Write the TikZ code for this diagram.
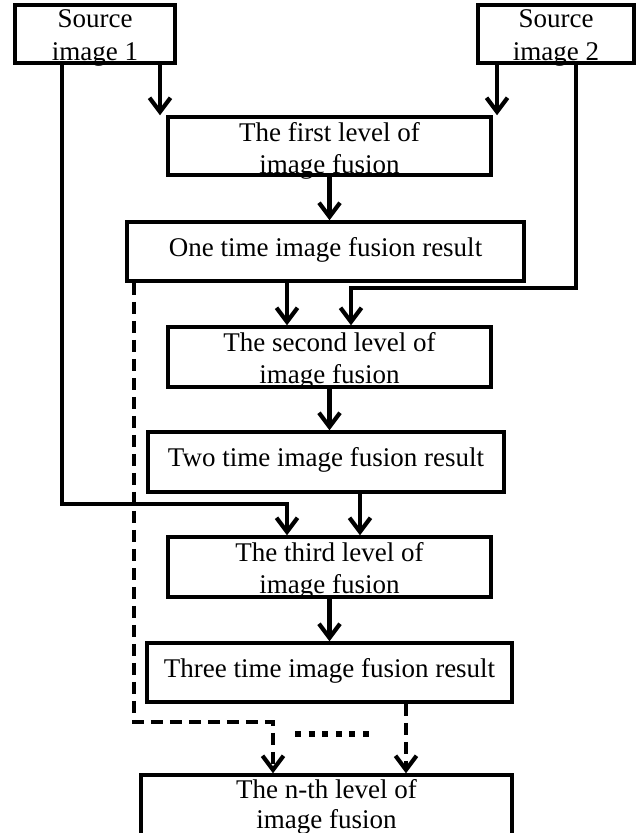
\documentclass[tikz,border=0pt]{standalone}
\usepackage{fontspec}
\setmainfont{Liberation Serif}
\usetikzlibrary{arrows.meta}
\begin{document}
\begin{tikzpicture}[x=1pt,y=-1pt,
  box/.style={draw=black, line width=3.5pt, rectangle, inner sep=0pt},
  txt/.style={font=\fontsize{27}{32}\selectfont, inner sep=0pt, anchor=base},
  arr/.style={line width=4.2pt, -{Straight Barb[length=14pt,width=21pt]}},
  dsh/.style={dash pattern=on 12pt off 7pt}]
\useasboundingbox (0,0) rectangle (640,833);
% boxes
\node[box, minimum width=160, minimum height=58] (s1) at (95,34) {};
\node[box, minimum width=156, minimum height=58] (s2) at (556,34) {};
\node[box, minimum width=323, minimum height=58] (l1) at (329.5,146) {};
\node[box, minimum width=397, minimum height=59] (r1) at (325.5,251.5) {};
\node[box, minimum width=323, minimum height=60] (l2) at (329.5,357) {};
\node[box, minimum width=356, minimum height=60] (r2) at (326,462) {};
\node[box, minimum width=323, minimum height=60] (l3) at (329.5,567) {};
\node[box, minimum width=365, minimum height=59] (r3) at (329.5,672.5) {};
\node[box, minimum width=371, minimum height=80] (ln) at (326.5,815) {};
% texts
\node[txt] (s1a) at (95,27) {Source};
\node[txt] (s1b) at (95,60) {image 1};
\node[txt] (s2a) at (556,27) {Source};
\node[txt] (s2b) at (556,60) {image 2};
\node[txt] (l1a) at (329.5,141) {The first level of};
\node[txt] (l1b) at (329.5,173) {image fusion};
\node[txt] (r1a) at (325.5,256) {One time image fusion result};
\node[txt] (l2a) at (329.5,351) {The second level of};
\node[txt] (l2b) at (329.5,383) {image fusion};
\node[txt] (r2a) at (326,466) {Two time image fusion result};
\node[txt] (l3a) at (329.5,561) {The third level of};
\node[txt] (l3b) at (329.5,593) {image fusion};
\node[txt] (r3a) at (329.5,677) {Three time image fusion result};
\node[txt] (lna) at (326.5,798) {The n-th level of};
\node[txt] (lnb) at (326.5,828) {image fusion};
% helper coordinates
\coordinate (xa) at (62,0);
\coordinate (ya) at (0,504);
\coordinate (xb) at (287,0);
\coordinate (xc) at (160,0);
\coordinate (xd) at (497,0);
\coordinate (xe) at (576,0);
\coordinate (yf) at (0,288);
\coordinate (xg) at (351,0);
\coordinate (xh) at (360,0);
\coordinate (xi) at (406,0);
\coordinate (xj) at (134,0);
\coordinate (yk) at (0,722);
\coordinate (xl) at (273,0);
\coordinate (d1) at (295,734);
\coordinate (d2) at (369,734);
% connectors
\draw[arr] (s1.south -| xa) |- (ya -| xb) -- (l3.north -| xb);
\draw[arr] (s1.south -| xc) -- (l1.north -| xc);
\draw[arr] (s2.south -| xd) -- (l1.north -| xd);
\draw[arr] (s2.south -| xe) |- (yf -| xg) -- (l2.north -| xg);
\draw[arr] (l1.south) -- (r1.north -| l1.south);
\draw[arr] (r1.south -| xb) -- (l2.north -| xb);
\draw[arr] (l2.south) -- (r2.north -| l2.south);
\draw[arr] (r2.south -| xh) -- (l3.north -| xh);
\draw[arr] (l3.south) -- (r3.north -| l3.south);
\draw[arr, dsh] (r3.south -| xi) -- (ln.north -| xi);
\draw[arr, dsh] (r1.south -| xj) |- (yk -| xl) -- (ln.north -| xl);
\draw[line width=6pt, dash pattern=on 6pt off 7.6pt] (d1) -- (d2);
\end{tikzpicture}
\end{document}
